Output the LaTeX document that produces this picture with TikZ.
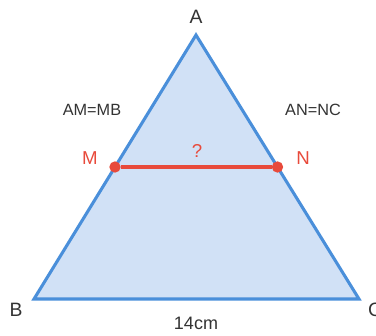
\documentclass[tikz,border=0pt]{standalone}
\usepackage{fontspec}
\setmainfont{Liberation Sans}
\usetikzlibrary{positioning,calc}
\definecolor{edgeblue}{HTML}{4A8FDA}
\definecolor{fillblue}{HTML}{D1E1F6}
\definecolor{ptred}{HTML}{E84A3B}
\definecolor{txtgrey}{HTML}{333333}
\tikzset{
  tri/.style={draw=edgeblue,fill=fillblue,line width=2.3pt,line join=miter},
  seg/.style={draw=ptred,line width=2.4pt},
  pt/.style={circle,fill=ptred,minimum size=8.5pt,inner sep=0pt},
  vx/.style={font=\fontsize{14.5}{17}\selectfont,text=txtgrey},
  lb/.style={font=\fontsize{12.2}{14}\selectfont,text=txtgrey},
  rl/.style={font=\fontsize{14}{16}\selectfont,text=ptred},
}
\begin{document}
\begin{tikzpicture}[x=0.75pt,y=-0.75pt]
\useasboundingbox (0,0) rectangle (376,336);
% the triangle and its corners
\coordinate (A) at (196,35);
\coordinate (B) at (34,299);
\coordinate (C) at (359,299);
\draw[tri] (A) -- (B) -- (C) -- cycle;
\node[vx] (lA) at (196,17) {A};
\node[vx] (lB) at (16,310) {B};
\node[vx] (lC) at (375,310) {C};
% midpoints and the segment joining them
\node[pt] (M) at ($(A)!0.5!(B)$) {};
\node[pt] (N) at ($(A)!0.5!(C)$) {};
\draw[seg] (M) -- (N);
\node[rl] (lM) at (90,158) {M};
\node[rl] (lN) at (303,158) {N};
\node[rl] (q) at (197,151) {?};
% given facts
\node[lb] (eqL) at (92,110) {AM=MB};
\node[lb] (eqR) at (313,110) {AN=NC};
\node[lb,font=\fontsize{13.5}{16}\selectfont] (base) at (196,323) {14cm};
\end{tikzpicture}
\end{document}
